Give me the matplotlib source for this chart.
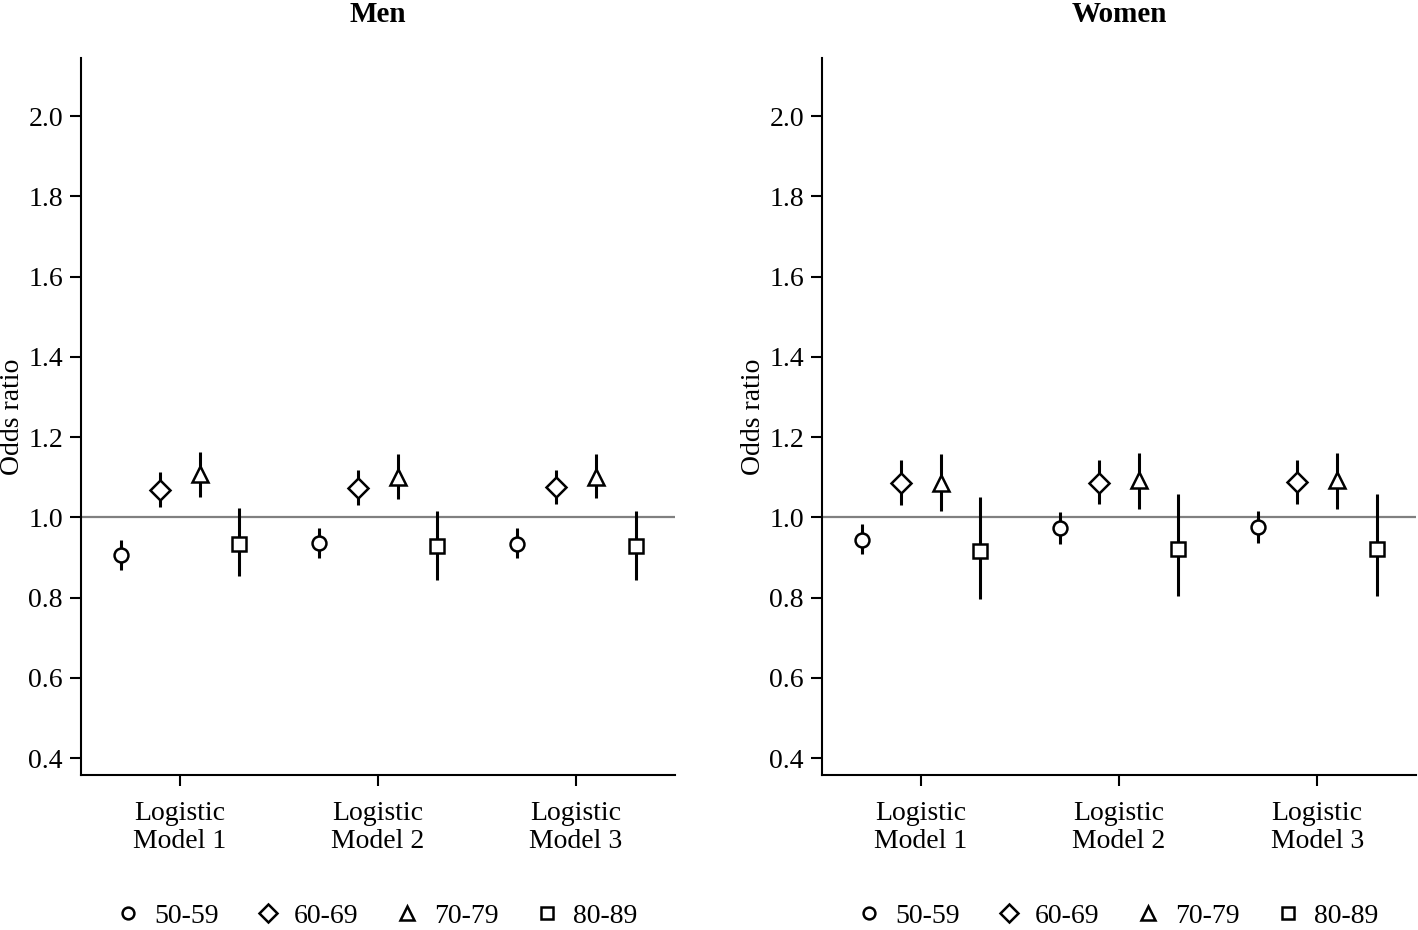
import matplotlib
matplotlib.use("Agg")

import numpy as np
import matplotlib.pyplot as plt
from matplotlib.lines import Line2D

# =========================
# DATA
# =========================

models = ["Logistic\nModel 1", "Logistic\nModel 2", "Logistic\nModel 3"]
ages = ["50-59", "60-69", "70-79", "80-89"]
markers = ["o", "D", "^", "s"]
marker_sizes = [10, 10.5, 12, 10.5]

# rows = age group, columns = model
men_or = [[0.907, 0.935, 0.934],
          [1.069, 1.074, 1.075],
          [1.107, 1.101, 1.101],
          [0.933, 0.928, 0.928]]
men_lo = [[0.870, 0.899, 0.899],
          [1.027, 1.032, 1.033],
          [1.052, 1.047, 1.048],
          [0.853, 0.845, 0.845]]
men_hi = [[0.943, 0.974, 0.974],
          [1.113, 1.118, 1.119],
          [1.163, 1.159, 1.159],
          [1.024, 1.017, 1.017]]

women_or = [[0.944, 0.973, 0.976],
            [1.086, 1.086, 1.088],
            [1.086, 1.093, 1.093],
            [0.915, 0.922, 0.922]]
women_lo = [[0.908, 0.934, 0.937],
            [1.032, 1.033, 1.034],
            [1.016, 1.020, 1.020],
            [0.797, 0.803, 0.803]]
women_hi = [[0.984, 1.013, 1.017],
            [1.142, 1.142, 1.144],
            [1.157, 1.161, 1.161],
            [1.051, 1.057, 1.058]]

offsets = [-0.3, -0.1, 0.1, 0.3]

plt.rcParams["font.family"] = ["Liberation Serif", "DejaVu Serif"]
plt.rcParams["font.size"] = 20

fig = plt.figure(figsize=(14.18, 9.3), dpi=100)

panels = [
    ("Men", men_or, men_lo, men_hi, [0.0571, 0.1667, 0.4190, 0.7710]),
    ("Women", women_or, women_lo, women_hi, [0.5797, 0.1667, 0.4190, 0.7710]),
]

for title, ors, los, his, rect in panels:

    ax = fig.add_axes(rect)

    ax.axhline(1.0, color="#808080", lw=1.6, zorder=1)

    x = np.arange(1, len(models) + 1)

    for i in range(len(ages)):
        xs = x + offsets[i]
        ax.vlines(xs, los[i], his[i], color="black", lw=2.2, zorder=2)
        ax.plot(xs, ors[i], linestyle="none", marker=markers[i],
                ms=marker_sizes[i], mfc="white", mec="black", mew=1.8,
                zorder=3)

    ax.set_xlim(0.5, 3.5)
    ax.set_ylim(0.358, 2.145)
    ax.set_xticks(x)
    ax.set_xticklabels(models, linespacing=1.12)
    ax.set_yticks(np.arange(0.4, 2.01, 0.2))
    ax.set_yticklabels([f"{v:.1f}" for v in np.arange(0.4, 2.01, 0.2)])

    for side in ["top", "right"]:
        ax.spines[side].set_visible(False)
    for side in ["left", "bottom"]:
        ax.spines[side].set_linewidth(1.5)

    ax.tick_params(axis="both", length=8, width=1.5, direction="out")
    ax.tick_params(axis="y", pad=5)
    ax.tick_params(axis="x", pad=11)

    ax.set_ylabel("Odds ratio", labelpad=2)
    ax.set_title(title, fontweight="bold", fontsize=21, pad=26)

    handles = [
        Line2D([], [], linestyle="none", marker=markers[i],
               ms=marker_sizes[i] * 0.85, mfc="white", mec="black", mew=1.8)
        for i in range(len(ages))
    ]

    ax.legend(handles, ages, loc="center", ncol=4, frameon=False,
              bbox_to_anchor=(rect[0] + rect[2] / 2, 1 - 916 / 930),
              bbox_transform=fig.transFigure,
              handlelength=0.7, handletextpad=0.6, columnspacing=1.4,
              fontsize=20)

fig.savefig("out.png", dpi=100)
